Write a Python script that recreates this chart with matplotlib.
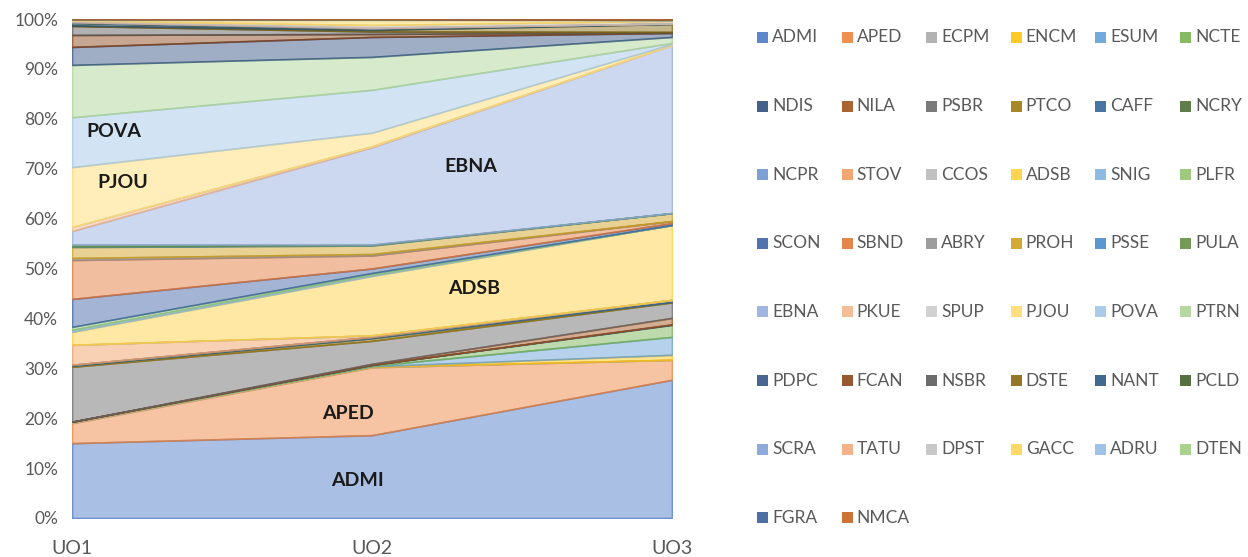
import numpy as np
import matplotlib.pyplot as plt
from matplotlib.colors import to_rgba
from matplotlib.patches import Rectangle

plt.rcParams['font.family'] = ['Lato', 'DejaVu Sans']

categories = ['UO1', 'UO2', 'UO3']

series_names = ['ADMI', 'APED', 'ECPM', 'ENCM', 'ESUM', 'NCTE',
                'NDIS', 'NILA', 'PSBR', 'PTCO', 'CAFF', 'NCRY',
                'NCPR', 'STOV', 'CCOS', 'ADSB', 'SNIG', 'PLFR',
                'SCON', 'SBND', 'ABRY', 'PROH', 'PSSE', 'PULA',
                'EBNA', 'PKUE', 'SPUP', 'PJOU', 'POVA', 'PTRN',
                'PDPC', 'FCAN', 'NSBR', 'DSTE', 'NANT', 'PCLD',
                'SCRA', 'TATU', 'DPST', 'GACC', 'ADRU', 'DTEN',
                'FGRA', 'NMCA']

# share of each series (%) per category, same order as series_names
uo1 = [15.0, 4.0, 0.2, 0.1, 0.0, 0.0,
       0.0, 0.0, 11.0, 0.2, 0.1, 0.1,
       0.0, 4.0, 0.0, 2.6, 0.4, 0.6,
       5.6, 7.8, 0.4, 2.2, 0.1, 0.4,
       2.7, 0.8, 0.0, 12.0, 10.0, 10.5,
       3.6, 2.4, 1.8, 0.1, 0.5, 0.1,
       0.1, 0.1, 0.2, 0.1, 0.1, 0.1,
       0.0, 0.0]
uo2 = [16.6, 13.6, 0.1, 0.1, 0.1, 0.2,
       0.0, 0.2, 4.6, 0.5, 0.2, 0.1,
       0.0, 0.3, 0.0, 11.9, 0.3, 0.3,
       0.9, 2.6, 0.3, 1.7, 0.1, 0.1,
       19.5, 0.2, 0.0, 2.7, 8.6, 6.6,
       4.0, 0.6, 0.5, 0.3, 0.2, 0.1,
       0.1, 0.1, 0.5, 1.0, 0.1, 0.1,
       0.0, 0.0]
uo3 = [27.7, 4.0, 0.0, 1.0, 3.6, 2.4,
       0.1, 1.3, 3.1, 0.1, 0.4, 0.0,
       0.0, 0.0, 0.0, 15.0, 0.0, 0.0,
       0.4, 0.4, 0.0, 1.6, 0.0, 0.0,
       33.7, 0.0, 0.0, 0.2, 0.2, 1.2,
       0.8, 0.1, 0.1, 1.6, 0.1, 0.0,
       0.0, 0.0, 0.5, 0.2, 0.0, 0.0,
       0.1, 0.1]

colors = ['#4472C4', '#ED7D31', '#A5A5A5', '#FFC000', '#5B9BD5', '#70AD47',
          '#264478', '#9E480E', '#636363', '#997300', '#255E91', '#43682B',
          '#698ED0', '#F1975A', '#B7B7B7', '#FFCD33', '#7CAFDD', '#8CC168',
          '#335AA1', '#E0702C', '#8C8C8C', '#CC9B10', '#4185C8', '#5A8A3A',
          '#8FAADC', '#F4B183', '#C9C9C9', '#FFD966', '#9DC3E6', '#A9D18E',
          '#2B4A80', '#843C0C', '#525252', '#7F6000', '#1F4E79', '#385723',
          '#7C9CD6', '#F3A577', '#C0C0C0', '#FFD34D', '#8DB9E2', '#9CC97B',
          '#2F5597', '#C55A11']

# labels written inside the big areas
area_labels = ['ADMI', 'APED', 'ADSB', 'EBNA', 'POVA', 'PJOU']
label_x = [0.95, 0.92, 1.34, 1.33, 0.14, 0.17]
label_y = [7.6, 21.0, 46.0, 70.5, 77.4, 67.3]

data = np.array([uo1, uo2, uo3]).T
data = data / data.sum(axis=0) * 100
x = np.arange(len(categories))

fig = plt.figure(figsize=(12.48, 5.57), dpi=100)
ax = fig.add_axes([72 / 1248, 1 - 518 / 557, 600 / 1248, 499 / 557])

polys = ax.stackplot(x, data, colors=colors)
for p, c in zip(polys, colors):
    p.set_facecolor(to_rgba(c, 0.45))
    p.set_edgecolor(to_rgba(c, 0.7))
    p.set_linewidth(1.2)

for name, lx, ly in zip(area_labels, label_x, label_y):
    ax.text(lx, ly, name, ha='center', va='center', fontsize=14,
            fontweight='bold', color='#1a1a1a')

ax.set_xlim(0, 2)
ax.set_ylim(0, 100)
ax.set_xticks(x)
ax.set_xticklabels(categories)
ax.set_yticks(np.arange(0, 101, 10))
ax.set_yticklabels(['%d%%' % v for v in range(0, 101, 10)])
ax.tick_params(axis='both', length=0, colors='#595959', labelsize=12.5)
ax.tick_params(axis='x', pad=16, labelsize=14)
ax.tick_params(axis='y', pad=10)
for s in ax.spines.values():
    s.set_visible(False)

# legend laid out row by row, 6 per row
for i, (name, c) in enumerate(zip(series_names, colors)):
    row, col = divmod(i, 6)
    px = 757 + col * 84.6
    py = 37.5 + row * 68.6
    fig.patches.append(Rectangle((px / 1248, 1 - (py + 5.5) / 557), 11 / 1248, 11 / 557,
                                 transform=fig.transFigure, facecolor=to_rgba(c, 0.85),
                                 edgecolor='none'))
    fig.text((px + 15) / 1248, 1 - py / 557, name, ha='left', va='center',
             fontsize=12.5, color='#595959')

fig.savefig('out.png', dpi=100)
